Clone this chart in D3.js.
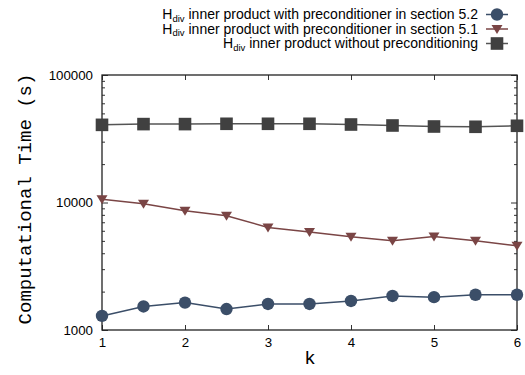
<!DOCTYPE html>
<html><head><meta charset="utf-8">
<script src="https://cdn.jsdelivr.net/npm/d3@7"></script>
<style>body{margin:0;background:#fff}svg{display:block}</style>
</head><body><svg id="c" width="525" height="375"></svg>
<script>
const kValues = [1,1.5,2,2.5,3,3.5,4,4.5,5,5.5,6];
const sec52 = [1290,1530,1640,1460,1600,1600,1690,1850,1810,1890,1890];
const sec51 = [10600,9770,8610,7870,6370,5860,5380,5010,5410,5010,4570];
const noPre = [40650,41200,41200,41430,41430,41430,40900,40180,39450,39250,39970];
const xTicks = [1,2,3,4,5,6];
const yMajor = [1000,10000,100000];
const seriesNames = ["inner product with preconditioner in section 5.2","inner product with preconditioner in section 5.1","inner product without preconditioning"];

const svg = d3.select("#c");
const L=102,R=517,T=75,B=330;
const x = d3.scaleLinear().domain([1,6]).range([L,R]);
const y = d3.scaleLog().domain([1000,100000]).range([B,T]);
const yMinor = [];
[1000,10000].forEach(d=>{for(let i=2;i<=9;i++) yMinor.push(d*i);});

const font = "'Liberation Sans', Arial, sans-serif";
const axisStyle = g=>{g.select(".domain").remove();g.selectAll("line").attr("stroke","#333").attr("stroke-width",1);g.selectAll("text").attr("font-family",font).attr("font-size",13.3).attr("fill","#000");};

svg.append("g").attr("transform",`translate(${L},0)`).call(d3.axisLeft(y).tickValues(yMajor).tickFormat(d3.format("d")).tickSizeInner(-6).tickSizeOuter(0).tickPadding(9)).call(axisStyle);
svg.append("g").attr("transform",`translate(${L},0)`).call(d3.axisLeft(y).tickValues(yMinor).tickFormat("").tickSizeInner(-3).tickSizeOuter(0)).call(axisStyle);
svg.append("g").attr("transform",`translate(${R},0)`).call(d3.axisRight(y).tickValues(yMajor).tickFormat("").tickSizeInner(-6).tickSizeOuter(0)).call(axisStyle);
svg.append("g").attr("transform",`translate(${R},0)`).call(d3.axisRight(y).tickValues(yMinor).tickFormat("").tickSizeInner(-3).tickSizeOuter(0)).call(axisStyle);
svg.append("g").attr("transform",`translate(0,${B})`).call(d3.axisBottom(x).tickValues(xTicks).tickFormat(d3.format("d")).tickSizeInner(-5).tickSizeOuter(0).tickPadding(8)).call(axisStyle);
svg.append("g").attr("transform",`translate(0,${T})`).call(d3.axisTop(x).tickValues(xTicks).tickFormat("").tickSizeInner(-5).tickSizeOuter(0)).call(axisStyle);

svg.append("rect").attr("x",L).attr("y",T).attr("width",R-L).attr("height",B-T).attr("fill","none").attr("stroke","#222").attr("stroke-width",1.3);

svg.append("text").attr("transform",`translate(26,199) rotate(-90)`).attr("text-anchor","middle").attr("dominant-baseline","central")
  .attr("font-family","'Liberation Mono', 'Courier New', monospace").attr("font-size",19).text("Computational Time (s)");
svg.append("text").attr("x",310).attr("y",364).attr("text-anchor","middle")
  .attr("font-family","'Liberation Mono', 'Courier New', monospace").attr("font-size",19).text("k");

const series = [
  {vals:sec52, color:"#3b4e68", line:"#3b4e68", shape:"circle"},
  {vals:sec51, color:"#7a4545", line:"#7a4545", shape:"tri"},
  {vals:noPre, color:"#404040", line:"#555555", shape:"square"}
];
function marker(g, shape, color){
  if(shape==="circle") g.append("circle").attr("r",6.2).attr("fill",color);
  else if(shape==="tri") g.append("path").attr("d","M-5.5,-4 L5.5,-4 L0,5 Z").attr("fill",color);
  else g.append("rect").attr("x",-6.3).attr("y",-6.3).attr("width",12.6).attr("height",12.6).attr("fill",color);
}
const line = d3.line().x((d,i)=>x(kValues[i])).y(d=>y(d));
series.slice().reverse().forEach(s=>{
  svg.append("path").datum(s.vals).attr("d",line).attr("fill","none").attr("stroke",s.line).attr("stroke-width",1.5);
  s.vals.forEach((v,i)=>{
    const g = svg.append("g").attr("transform",`translate(${x(kValues[i])},${y(v)})`);
    marker(g,s.shape,s.color);
  });
});

// legend
const legY=[14.5,29,43.5];
series.forEach((s,i)=>{
  const g = svg.append("g");
  g.append("line").attr("x1",486).attr("x2",508).attr("y1",legY[i]).attr("y2",legY[i]).attr("stroke",s.line).attr("stroke-width",1.5);
  const m = g.append("g").attr("transform",`translate(497,${legY[i]})`);
  marker(m,s.shape,s.color);
  const t = g.append("text").attr("x",478).attr("y",legY[i]+4.5).attr("text-anchor","end").attr("font-family",font).attr("font-size",14);
  t.append("tspan").text("H");
  t.append("tspan").attr("font-size",9.5).attr("dy",2.5).text("div");
  t.append("tspan").attr("dy",-2.5).text(" "+seriesNames[i]);
});
</script></body></html>
